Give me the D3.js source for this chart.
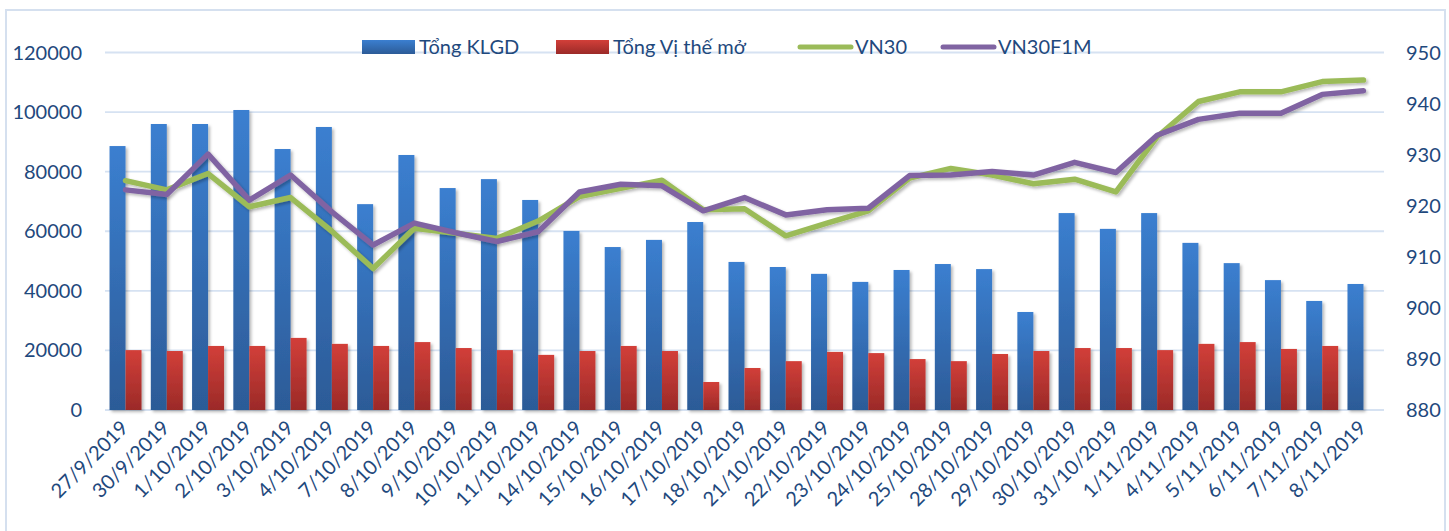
<!DOCTYPE html>
<html lang="vi">
<head>
<meta charset="UTF-8">
<title>Tổng KLGD, Tổng Vị thế mở, VN30, VN30F1M</title>
<script src="https://d3js.org/d3.v7.min.js"></script>
<style>
    body { margin: 0; background: #fff; }
    svg text { font-family: Lato, "Open Sans", sans-serif; fill: #1f497d; }
    .tick-label { font-size: 20px; }
    .legend-label { font-size: 20px; }
</style>
</head>
<body>
<div id="chart"></div>
<script>
const dates = ['27/9/2019', '30/9/2019', '1/10/2019', '2/10/2019', '3/10/2019', '4/10/2019', '7/10/2019',
    '8/10/2019', '9/10/2019', '10/10/2019', '11/10/2019', '14/10/2019', '15/10/2019', '16/10/2019',
    '17/10/2019', '18/10/2019', '21/10/2019', '22/10/2019', '23/10/2019', '24/10/2019', '25/10/2019',
    '28/10/2019', '29/10/2019', '30/10/2019', '31/10/2019', '1/11/2019', '4/11/2019', '5/11/2019',
    '6/11/2019', '7/11/2019', '8/11/2019'];

// Tổng KLGD (left axis)
const klgd = [88600, 96000, 96000, 100700, 87600, 95000, 69100, 85600, 74500, 77500, 70500,
    60100, 54700, 57100, 63100, 49700, 48000, 45700, 43000, 47000, 49000, 47300, 32900,
    66100, 60800, 66100, 56100, 49300, 43600, 36600, 42300];

// Tổng Vị thế mở (left axis), no value on the last day
const viThe = [20100, 19800, 21500, 21500, 24200, 22200, 21500, 22800, 20800, 20100, 18500,
    19800, 21500, 19800, 9400, 14100, 16400, 19500, 19100, 17100, 16400, 18800, 19800,
    20800, 20800, 20100, 22200, 22800, 20500, 21500, null];

// VN30 and VN30F1M (right axis)
const vn30 = [924.9, 923.1, 926.3, 919.8, 921.6, 915.0, 907.7, 915.6, 914.6, 913.6, 917.0,
    921.8, 923.4, 925.0, 919.2, 919.4, 914.1, 916.6, 919.0, 925.4, 927.3, 926.0, 924.3,
    925.2, 922.7, 933.5, 940.4, 942.3, 942.3, 944.3, 944.6];
const vn30f1m = [923.1, 922.2, 930.1, 921.1, 926.0, 918.8, 912.3, 916.6, 914.7, 913.0, 914.9,
    922.7, 924.2, 923.9, 919.0, 921.6, 918.2, 919.2, 919.5, 925.9, 926.0, 926.7, 926.0,
    928.5, 926.5, 933.8, 936.9, 938.1, 938.1, 941.8, 942.5];

const leftTicks = [0, 20000, 40000, 60000, 80000, 100000, 120000];
const rightTicks = [880, 890, 900, 910, 920, 930, 940, 950];

const W = 1449, H = 531;
const plot = { left: 105, right: 1384, top: 52.5, bottom: 410 };

const svg = d3.select("#chart").append("svg")
    .attr("width", W)
    .attr("height", H);

const defs = svg.append("defs");

function vGradient(id, top, bottom) {
    const g = defs.append("linearGradient")
        .attr("id", id)
        .attr("x1", "0%").attr("y1", "0%")
        .attr("x2", "0%").attr("y2", "100%");
    g.append("stop").attr("offset", "0%").attr("stop-color", top);
    g.append("stop").attr("offset", "100%").attr("stop-color", bottom);
}
vGradient("gradBlue", "#3b7fd0", "#2c5b97");
vGradient("gradRed", "#d23f39", "#9b2a28");

const shadow = defs.append("filter")
    .attr("id", "shadow")
    .attr("x", "-20%").attr("y", "-20%")
    .attr("width", "150%").attr("height", "150%");
shadow.append("feDropShadow")
    .attr("dx", 2).attr("dy", 2)
    .attr("stdDeviation", 1.5)
    .attr("flood-color", "#000")
    .attr("flood-opacity", 0.28);

// chart frame
svg.append("rect")
    .attr("x", 6).attr("y", 10)
    .attr("width", 1439).attr("height", H)
    .attr("fill", "none")
    .attr("stroke", "#d5e0ef")
    .attr("stroke-width", 2);

const x = d3.scaleBand()
    .domain(dates)
    .range([plot.left, plot.right])
    .paddingInner(0.225)
    .paddingOuter(0.11);

const x1 = d3.scaleBand()
    .domain(["klgd", "viThe"])
    .range([0, x.bandwidth()]);

const y = d3.scaleLinear()
    .domain([0, 120000])
    .range([plot.bottom, plot.top]);

const y2 = d3.scaleLinear()
    .domain([880, 950])
    .range([plot.bottom, plot.top]);

const cx = d => x(d) + x.bandwidth() / 2;

// gridlines
svg.append("g")
    .selectAll("line")
    .data(leftTicks)
    .join("line")
    .attr("x1", plot.left)
    .attr("x2", plot.right)
    .attr("y1", d => y(d))
    .attr("y2", d => y(d))
    .attr("stroke", "#d6e2f2")
    .attr("stroke-width", 1.8);

// left axis labels
svg.append("g")
    .selectAll("text")
    .data(leftTicks)
    .join("text")
    .attr("class", "tick-label")
    .attr("x", 82)
    .attr("y", d => y(d))
    .attr("dy", "0.35em")
    .attr("text-anchor", "end")
    .text(d => d);

// right axis labels
svg.append("g")
    .selectAll("text")
    .data(rightTicks)
    .join("text")
    .attr("class", "tick-label")
    .attr("x", 1406)
    .attr("y", d => y2(d))
    .attr("dy", "0.35em")
    .attr("text-anchor", "start")
    .text(d => d);

// bars
const bars = svg.append("g").attr("filter", "url(#shadow)");

bars.selectAll(".bar-klgd")
    .data(dates)
    .join("rect")
    .attr("class", "bar-klgd")
    .attr("x", d => x(d) + x1("klgd"))
    .attr("width", x1.bandwidth())
    .attr("y", (d, i) => y(klgd[i]))
    .attr("height", (d, i) => y(0) - y(klgd[i]))
    .attr("fill", "url(#gradBlue)");

bars.selectAll(".bar-vithe")
    .data(dates.filter((d, i) => viThe[i] != null))
    .join("rect")
    .attr("class", "bar-vithe")
    .attr("x", d => x(d) + x1("viThe"))
    .attr("width", x1.bandwidth())
    .attr("y", d => y(viThe[dates.indexOf(d)]))
    .attr("height", d => y(0) - y(viThe[dates.indexOf(d)]))
    .attr("fill", "url(#gradRed)");

// lines
const lines = svg.append("g").attr("filter", "url(#shadow)");

function drawLine(values, color) {
    const line = d3.line()
        .x((d, i) => cx(dates[i]))
        .y(d => y2(d));
    lines.append("path")
        .datum(values)
        .attr("d", line)
        .attr("fill", "none")
        .attr("stroke", color)
        .attr("stroke-width", 5.5)
        .attr("stroke-linejoin", "round")
        .attr("stroke-linecap", "round");
}
drawLine(vn30, "#9bbb59");
drawLine(vn30f1m, "#8064a2");

// x labels
svg.append("g")
    .selectAll("text")
    .data(dates)
    .join("text")
    .attr("class", "tick-label")
    .attr("text-anchor", "end")
    .attr("transform", d => `translate(${cx(d) + 4},${429}) rotate(-45)`)
    .text(d => d);

// legend
const legendItems = [
    { name: "Tổng KLGD", type: "bar", fill: "url(#gradBlue)", x: 362 },
    { name: "Tổng Vị thế mở", type: "bar", fill: "url(#gradRed)", x: 556 },
    { name: "VN30", type: "line", fill: "#9bbb59", x: 798 },
    { name: "VN30F1M", type: "line", fill: "#8064a2", x: 941 }
];

const legend = svg.append("g");
legendItems.forEach(item => {
    if (item.type === "bar") {
        legend.append("rect")
            .attr("x", item.x)
            .attr("y", 40)
            .attr("width", 53)
            .attr("height", 14)
            .attr("fill", item.fill);
    } else {
        legend.append("line")
            .attr("x1", item.x + 2)
            .attr("x2", item.x + 53)
            .attr("y1", 47)
            .attr("y2", 47)
            .attr("stroke", item.fill)
            .attr("stroke-width", 5)
            .attr("stroke-linecap", "round");
    }
    legend.append("text")
        .attr("class", "legend-label")
        .attr("x", item.x + 57)
        .attr("y", 47)
        .attr("dy", "0.35em")
        .text(item.name);
});
</script>
</body>
</html>
